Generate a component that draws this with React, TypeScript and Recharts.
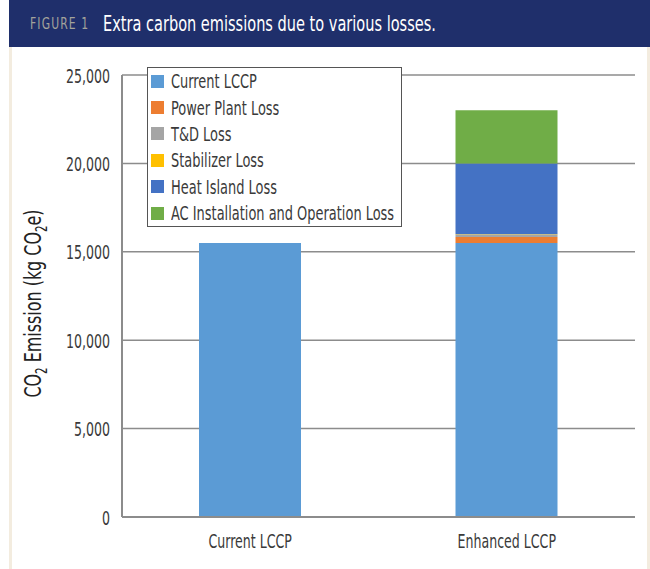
import React from 'react';
import { BarChart, Bar, XAxis, YAxis, CartesianGrid, Legend } from 'recharts';

const categories = ['Current LCCP', 'Enhanced LCCP'];
const currentLccp = [15500, 15500];
const powerPlantLoss = [0, 340];
const tdLoss = [0, 130];
const stabilizerLoss = [0, 20];
const heatIslandLoss = [0, 4010];
const acLoss = [0, 3000];
const yTicks = [0, 5000, 10000, 15000, 20000, 25000];

const seriesNames = [
  'Current LCCP',
  'Power Plant Loss',
  'T&D Loss',
  'Stabilizer Loss',
  'Heat Island Loss',
  'AC Installation and Operation Loss',
];
const seriesKeys = ['current', 'powerPlant', 'td', 'stabilizer', 'heatIsland', 'ac'];
const seriesColors = ['#5b9bd5', '#ed7d31', '#a5a5a5', '#ffc000', '#4472c4', '#70ad47'];

const data = categories.map((c, i) => ({
  name: c,
  current: currentLccp[i],
  powerPlant: powerPlantLoss[i],
  td: tdLoss[i],
  stabilizer: stabilizerLoss[i],
  heatIsland: heatIslandLoss[i],
  ac: acLoss[i],
}));

const FONT = "'DejaVu Sans Condensed', 'DejaVu Sans', sans-serif";
const TEXT = '#3a3a3a';
const LINE = '#8c8c8c';
const FS = 20;
const SX = 0.7;

const fmt = (v: number) => v.toLocaleString('en-US');

const XTick = (props: any) => {
  const { x, y, payload } = props;
  return (
    <text
      transform={`translate(${x},${y + 31}) scale(${SX},1)`}
      x={0}
      y={0}
      textAnchor="middle"
      fill={TEXT}
      fontFamily={FONT}
      fontSize={FS}
    >
      {payload.value}
    </text>
  );
};

const YTick = (props: any) => {
  const { x, y, payload } = props;
  return (
    <text
      transform={`translate(${x},${y + 7.5}) scale(${SX},1)`}
      x={0}
      y={0}
      textAnchor="end"
      fill={TEXT}
      fontFamily={FONT}
      fontSize={FS}
    >
      {fmt(payload.value)}
    </text>
  );
};

const YTitle = () => (
  <text
    transform="translate(41,303.5) rotate(-90) scale(0.77,1)"
    x={0}
    y={0}
    textAnchor="middle"
    fill="#222"
    fontFamily={FONT}
    fontSize={23}
  >
    CO
    <tspan dy={6} fontSize={15}>2</tspan>
    <tspan dy={-6}> Emission (kg CO</tspan>
    <tspan dy={6} fontSize={15}>2</tspan>
    <tspan dy={-6}>e)</tspan>
  </text>
);

const LegendBox = () => (
  <div
    style={{
      position: 'absolute',
      left: 147,
      top: 67,
      width: 255,
      height: 160,
      border: '1px solid #555',
      background: '#fff',
      boxSizing: 'border-box',
      paddingTop: 0,
    }}
  >
    {seriesNames.map((n, i) => (
      <div
        key={n}
        style={{
          display: 'flex',
          alignItems: 'center',
          height: 26.4,
          fontFamily: FONT,
          fontSize: FS,
          color: TEXT,
          whiteSpace: 'nowrap',
        }}
      >
        <span
          style={{
            display: 'inline-block',
            flexShrink: 0,
            width: 13,
            height: 13,
            marginLeft: 3,
            marginRight: 7,
            background: seriesColors[i],
          }}
        />
        <span style={{ display: 'inline-block', transform: 'scaleX(0.72)', transformOrigin: 'left center' }}>
          {n}
        </span>
      </div>
    ))}
  </div>
);

export default function App() {
  return (
    <div
      style={{
        position: 'absolute',
        left: 0,
        top: 0,
        width: 650,
        height: 569,
        background: '#fff',
        overflow: 'hidden',
      }}
    >
      <div
        style={{
          position: 'absolute',
          left: 9,
          top: 0,
          width: 641,
          height: 47,
          background: '#1f2f6b',
          display: 'flex',
          alignItems: 'center',
          fontFamily: FONT,
          whiteSpace: 'nowrap',
        }}
      >
        <span
          style={{
            position: 'absolute',
            left: 21,
            color: '#a3a39b',
            fontSize: 16,
            letterSpacing: 1.5,
            transform: 'scaleX(0.75)',
            transformOrigin: 'left center',
          }}
        >
          FIGURE 1
        </span>
        <span
          style={{
            position: 'absolute',
            left: 94,
            color: '#fff',
            fontSize: 21,
            transform: 'scaleX(0.77)',
            transformOrigin: 'left center',
          }}
        >
          Extra carbon emissions due to various losses.
        </span>
      </div>
      <div style={{ position: 'absolute', left: 9, top: 47, width: 3, height: 522, background: '#f3ecdf' }} />
      <div style={{ position: 'absolute', left: 647, top: 47, width: 3, height: 522, background: '#f3ecdf' }} />
      <div style={{ position: 'absolute', left: 0, top: 0 }}>
        <BarChart
          width={650}
          height={569}
          data={data}
          margin={{ top: 75, right: 15, bottom: 12, left: 0 }}
          barCategoryGap={0}
        >
          <CartesianGrid vertical={false} stroke={LINE} strokeWidth={1.5} />
          <XAxis
            dataKey="name"
            height={40}
            axisLine={{ stroke: LINE, strokeWidth: 2 }}
            tickLine={false}
            tickSize={0}
            tickMargin={0}
            tick={<XTick />}
          />
          <YAxis
            width={122}
            domain={[0, 25000]}
            ticks={yTicks}
            interval={0}
            axisLine={{ stroke: LINE, strokeWidth: 2 }}
            tickLine={false}
            tickSize={0}
            tickMargin={12}
            tick={<YTick />}
            label={<YTitle />}
          />
          <YAxis
            yAxisId="r"
            orientation="right"
            width={0}
            domain={[0, 25000]}
            tick={false}
            tickLine={false}
            axisLine={{ stroke: LINE, strokeWidth: 2 }}
          />
          <Legend content={() => null} />
          {seriesKeys.map((k, i) => (
            <Bar
              key={k}
              dataKey={k}
              name={seriesNames[i]}
              stackId="a"
              fill={seriesColors[i]}
              barSize={102}
              isAnimationActive={false}
            />
          ))}
        </BarChart>
      </div>
      <LegendBox />
    </div>
  );
}
